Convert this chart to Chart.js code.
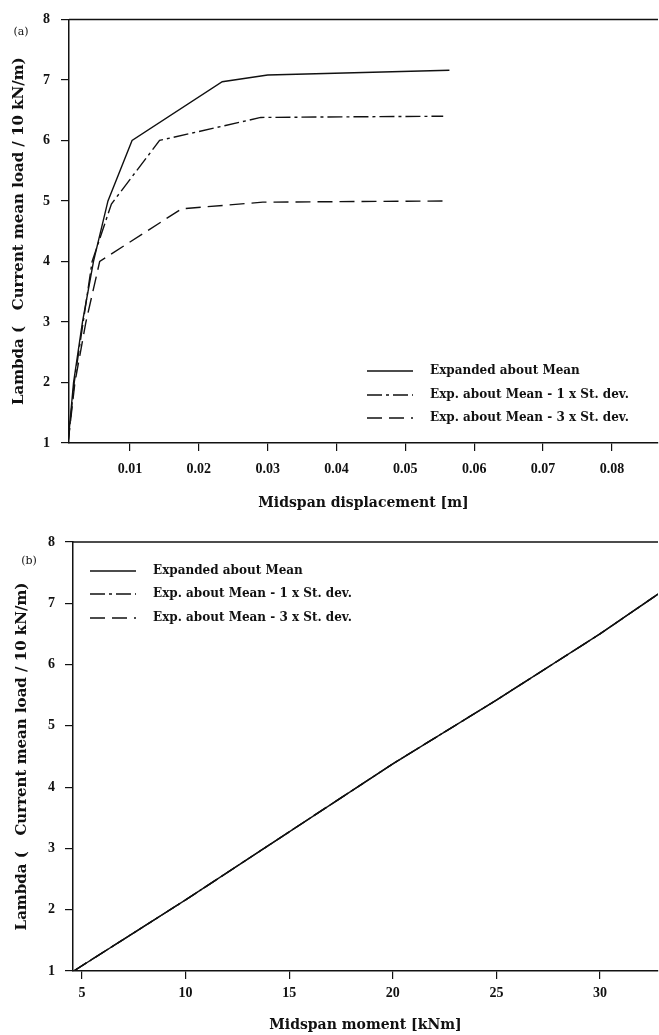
<!DOCTYPE html>
<html>
<head>
<meta charset="utf-8">
<script src="https://cdn.jsdelivr.net/npm/chart.js@4/dist/chart.umd.min.js"></script>
<style>
  body { margin: 0; background: #fff; }
  canvas { position: absolute; left: 0; }
  #chart-a { top: 0; }
  #chart-b { top: 515px; }
</style>
</head>
<body>
<canvas id="chart-a" width="659" height="515"></canvas>
<canvas id="chart-b" width="659" height="520"></canvas>
<script>
// (a) load vs midspan displacement
const dispMeanX = [0.001, 0.0018, 0.0031, 0.0047, 0.0068, 0.0103, 0.0234, 0.030, 0.0564];
const dispMeanY = [1, 2, 3, 4, 5, 6, 6.97, 7.08, 7.16];
const dispSd1X = [0.001, 0.0019, 0.0032, 0.0045, 0.0073, 0.0143, 0.029, 0.0555];
const dispSd1Y = [1, 2, 3, 4, 4.95, 6.0, 6.38, 6.4];
const dispSd3X = [0.001, 0.002, 0.0036, 0.0056, 0.0175, 0.0293, 0.0564];
const dispSd3Y = [1, 2, 3, 4, 4.87, 4.98, 5.0];

// (b) load vs midspan moment (all three curves coincide)
const momentX = [4.6, 10, 15, 20, 25, 30, 32.8];
const momentY = [1.0, 2.16, 3.27, 4.38, 5.42, 6.5, 7.15];

const seriesLabels = [
	'Expanded about Mean',
	'Exp. about Mean - 1 x St. dev.',
	'Exp. about Mean - 3 x St. dev.',
];
const dispTicks = [0.01, 0.02, 0.03, 0.04, 0.05, 0.06, 0.07, 0.08];
const momentTicks = [5, 10, 15, 20, 25, 30];
const yTitle = 'Lambda (\u00a0\u00a0\u00a0Current mean load / 10 kN/m)';

const ink = '#111';
const dashes = [[], [15, 4, 3, 4], [15, 7]];

Chart.defaults.font.family = '"Liberation Serif", serif';
Chart.defaults.font.weight = 'bold';
Chart.defaults.color = ink;

function toPoints(xs, ys) {
	return xs.map((x, i) => ({ x: x, y: ys[i] }));
}

function makeDataset(i, xs, ys) {
	return {
		label: seriesLabels[i],
		data: toPoints(xs, ys),
		borderColor: ink,
		borderWidth: 1.4,
		borderDash: dashes[i],
		pointRadius: 0,
		showLine: true,
		tension: 0,
		fill: false,
		order: 3 - i,
	};
}

// top frame line, panel tag and the inline legend
const framePlugin = {
	id: 'frame',
	afterDraw(chart, args, opts) {
		const { ctx, chartArea } = chart;
		ctx.save();
		ctx.strokeStyle = ink;
		ctx.lineWidth = 1.5;
		ctx.beginPath();
		ctx.moveTo(chartArea.left, chartArea.top);
		ctx.lineTo(chartArea.right, chartArea.top);
		ctx.stroke();

		ctx.font = '11px "DejaVu Serif", serif';
		ctx.fillStyle = ink;
		ctx.textAlign = 'center';
		ctx.textBaseline = 'middle';
		ctx.fillText(opts.tag, opts.tagX, opts.tagY);

		ctx.font = 'bold 12px "DejaVu Serif", serif';
		ctx.textAlign = 'left';
		chart.data.datasets.forEach((ds, i) => {
			const y = Math.round(opts.legendY + i * opts.legendGap);
			ctx.setLineDash(ds.borderDash);
			ctx.lineWidth = 1.5;
			ctx.beginPath();
			ctx.moveTo(opts.legendX, y);
			ctx.lineTo(opts.legendX + 46, y);
			ctx.stroke();
			ctx.setLineDash([]);
			ctx.fillText(ds.label, opts.legendX + 63, y);
		});
		ctx.restore();
	},
};

function axes(cfg) {
	const tickGrid = {
		display: true,
		drawOnChartArea: false,
		drawTicks: true,
		tickLength: 8,
		color: ink,
		lineWidth: 1.2,
	};
	return {
		x: {
			type: 'linear',
			min: cfg.xMin,
			max: cfg.xMax,
			afterFit: s => { s.height = cfg.xHeight; },
			afterBuildTicks: s => { s.ticks = cfg.xTicks.map(v => ({ value: v })); },
			ticks: {
				font: { size: 14 },
				padding: cfg.xTickPad,
				callback: cfg.xFormat,
				maxRotation: 0,
			},
			grid: tickGrid,
			border: { display: true, color: ink, width: 1.5 },
			title: {
				display: true,
				text: cfg.xTitle,
				font: { family: '"DejaVu Serif", serif', size: 14, weight: 'bold' },
				padding: { top: 0, bottom: cfg.xTitlePad },
			},
		},
		y: {
			type: 'linear',
			min: 1,
			max: 8,
			afterFit: s => { s.width = cfg.yWidth; },
			ticks: { stepSize: 1, font: { size: 14 }, padding: cfg.yTickPad },
			grid: tickGrid,
			border: { display: true, color: ink, width: 1.5 },
			title: {
				display: true,
				text: yTitle,
				font: { family: '"DejaVu Serif", serif', size: 15, weight: 'bold' },
				padding: { top: cfg.yTitlePad, bottom: 0 },
			},
		},
	};
}

const chartA = new Chart(document.getElementById('chart-a'), {
	type: 'scatter',
	data: {
		datasets: [
			makeDataset(0, dispMeanX, dispMeanY),
			makeDataset(1, dispSd1X, dispSd1Y),
			makeDataset(2, dispSd3X, dispSd3Y),
		],
	},
	options: {
		responsive: false,
		animation: false,
		devicePixelRatio: 1,
		layout: { padding: { top: 16, right: 1, left: 0, bottom: 0 } },
		plugins: {
			legend: { display: false },
			tooltip: { enabled: false },
			frame: { tag: '(a)', tagX: 21, tagY: 32, legendX: 367, legendY: 371, legendGap: 23.5 },
		},
		scales: axes({
			xMin: 0.00114, xMax: 0.0867, xTicks: dispTicks,
			xFormat: v => v.toFixed(2),
			xHeight: 72, xTickPad: 9.6, xTitlePad: 3.6,
			xTitle: 'Midspan displacement [m]',
			yWidth: 69, yTickPad: 11, yTitlePad: 10.5,
		}),
	},
	plugins: [framePlugin],
});

const chartB = new Chart(document.getElementById('chart-b'), {
	type: 'scatter',
	data: {
		datasets: [
			makeDataset(0, momentX, momentY),
			makeDataset(1, momentX, momentY),
			makeDataset(2, momentX, momentY),
		],
	},
	options: {
		responsive: false,
		animation: false,
		devicePixelRatio: 1,
		layout: { padding: { top: 27, right: 1, left: 0, bottom: 0 } },
		plugins: {
			legend: { display: false },
			tooltip: { enabled: false },
			frame: { tag: '(b)', tagX: 29, tagY: 46, legendX: 90, legendY: 56, legendGap: 23.3 },
		},
		scales: axes({
			xMin: 4.566, xMax: 32.8, xTicks: momentTicks,
			xFormat: v => String(v),
			xHeight: 64, xTickPad: 5.9, xTitlePad: 1.6,
			xTitle: 'Midspan moment [kNm]',
			yWidth: 73, yTickPad: 10, yTitlePad: 13,
		}),
	},
	plugins: [framePlugin],
});
</script>
</body>
</html>
